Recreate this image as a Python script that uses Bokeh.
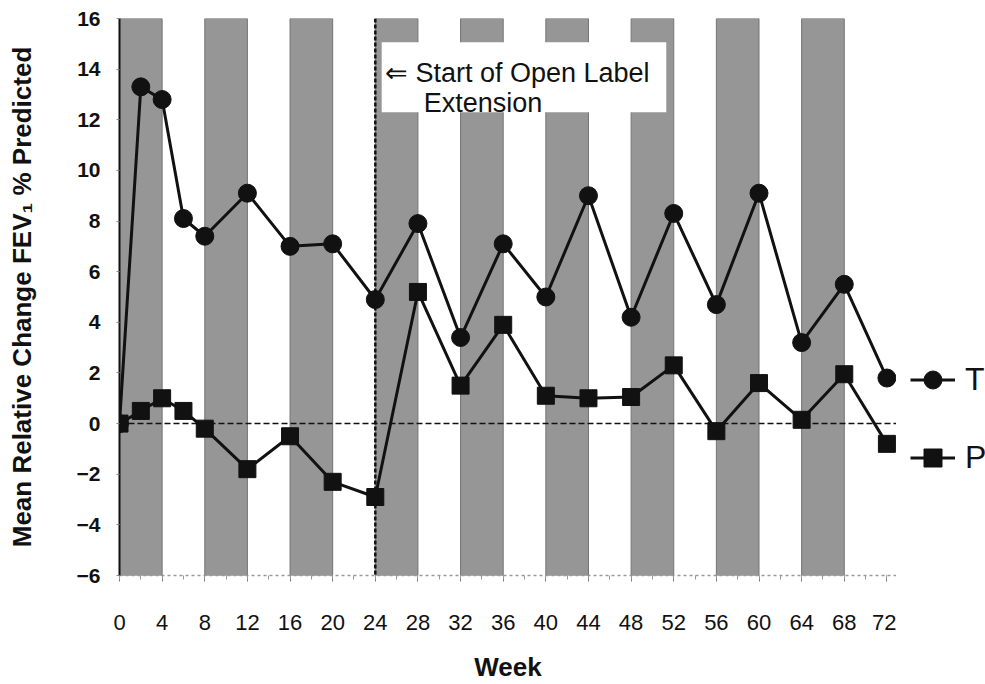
from bokeh.plotting import figure
from bokeh.layouts import row
from bokeh.models import (Span, BoxAnnotation, Label, Legend, LegendItem,
                          FixedTicker, Range1d, ColumnDataSource)
from bokeh.embed import file_html
from bokeh.resources import INLINE

# ---- data ----
weeks = [0, 2, 4, 6, 8, 12, 16, 20, 24, 28, 32, 36, 40, 44, 48, 52, 56, 60, 64, 68, 72]
t_values = [0.0, 13.3, 12.8, 8.1, 7.4, 9.1, 7.0, 7.1, 4.9, 7.9, 3.4, 7.1, 5.0,
            9.0, 4.2, 8.3, 4.7, 9.1, 3.2, 5.5, 1.8]
p_values = [0.0, 0.5, 1.0, 0.5, -0.2, -1.8, -0.5, -2.3, -2.9, 5.2, 1.5, 3.9, 1.1,
            1.0, 1.05, 2.3, -0.3, 1.6, 0.15, 1.95, -0.8]
band_starts = [0, 8, 16, 24, 32, 40, 48, 56, 64]
band_length = 4
x_ticks = list(range(0, 73, 4))
x_minor = list(range(0, 73, 2))
y_ticks = list(range(-6, 17, 2))
open_label_week = 24
series_names = ["T", "P"]
note_lines = ["\u21d0 Start of Open Label", "Extension"]

FONT = "Liberation Sans"
INK = "#111111"

TOP, BOTTOM = 18, 106
MAIN_W = 896

p = figure(width=MAIN_W, height=684, x_range=Range1d(0, 72.9), y_range=Range1d(-6, 16),
           output_backend="svg", toolbar_location=None,
           min_border_left=119, min_border_right=0, min_border_top=TOP,
           min_border_bottom=BOTTOM)
p.outline_line_color = None
p.xgrid.visible = False
p.ygrid.visible = False

# shaded bands
band_src = ColumnDataSource(dict(
    left=band_starts,
    right=[b + band_length for b in band_starts],
))
p.quad(left="left", right="right", bottom=-6, top=16, source=band_src,
       fill_color="#969696", line_color="#747474", line_width=1)

# reference lines
p.add_layout(Span(location=0, dimension="width", line_dash="6 3",
                  line_width=1.5, line_color=INK))
p.add_layout(Span(location=open_label_week, dimension="height", line_dash="4 2",
                  line_width=2.5, line_color=INK))

# annotation box + text
p.add_layout(BoxAnnotation(left=24.6, right=51.3, bottom=12.3, top=15.06,
                           fill_color="white", fill_alpha=1.0, line_color=None))
p.add_layout(Label(x=24.9, y=13.84, text=note_lines[0], text_font=FONT,
                   text_font_size="27px", text_color=INK, text_baseline="alphabetic"))
p.add_layout(Label(x=28.55, y=12.66, text=note_lines[1], text_font=FONT,
                   text_font_size="27px", text_color=INK, text_baseline="alphabetic"))

# series
src = ColumnDataSource(dict(w=weeks, t=t_values, p=p_values))


def draw_series(fig):
    tl = fig.line("w", "t", source=src, line_width=3, line_color=INK)
    tm = fig.scatter("w", "t", source=src, marker="circle", size=18,
                     fill_color=INK, line_color=INK)
    pl = fig.line("w", "p", source=src, line_width=3, line_color=INK)
    pm = fig.scatter("w", "p", source=src, marker="square", size=17,
                     fill_color=INK, line_color=INK)
    return tl, tm, pl, pm


draw_series(p)

# y axis
ya = p.yaxis[0]
ya.ticker = FixedTicker(ticks=y_ticks)
ya.axis_line_width = 2
ya.axis_line_color = INK
ya.major_tick_line_color = "#888888"
ya.major_tick_out = 3
ya.major_tick_in = 0
ya.minor_tick_out = 0
ya.minor_tick_in = 0
ya.major_label_standoff = 16
ya.major_label_text_font = FONT
ya.major_label_text_font_size = "21px"
ya.major_label_text_font_style = "bold"
ya.major_label_text_color = INK
ya.axis_label = "Mean Relative Change FEV\u2081 % Predicted"
ya.axis_label_text_font = FONT
ya.axis_label_text_font_size = "26px"
ya.axis_label_text_font_style = "bold"
ya.axis_label_text_color = INK
ya.axis_label_standoff = 37

# x axis
xa = p.xaxis[0]
xa.ticker = FixedTicker(ticks=x_ticks, minor_ticks=x_minor)
xa.axis_line_color = "#9a9a9a"
xa.axis_line_dash = "3 3"
xa.axis_line_width = 1.5
xa.major_tick_line_color = "#777777"
xa.major_tick_out = 6
xa.major_tick_in = 0
xa.minor_tick_line_color = "#999999"
xa.minor_tick_out = 4
xa.minor_tick_in = 0
xa.major_label_standoff = 33
xa.major_label_text_font = FONT
xa.major_label_text_font_size = "22px"
xa.major_label_text_color = INK
xa.axis_label = "Week"
xa.axis_label_text_font = FONT
xa.axis_label_text_font_size = "26px"
xa.axis_label_text_font_style = "bold"
xa.axis_label_text_color = INK
xa.axis_label_standoff = 19

# legend panel at the right (series drawn out of view, only legend glyphs show)
q = figure(width=985 - MAIN_W, height=684, x_range=Range1d(1000, 1001), y_range=p.y_range,
           output_backend="svg", toolbar_location=None,
           x_axis_type=None, y_axis_type=None,
           min_border_left=0, min_border_right=0, min_border_top=TOP,
           min_border_bottom=BOTTOM)
q.outline_line_color = None
q.xgrid.visible = False
q.ygrid.visible = False
qt_l, qt_m, qp_l, qp_m = draw_series(q)

legend = Legend(items=[LegendItem(label=series_names[0], renderers=[qt_l, qt_m]),
                       LegendItem(label=series_names[1], renderers=[qp_l, qp_m])],
                location=(14, 95), padding=0, margin=0, spacing=33,
                glyph_width=45, glyph_height=45, label_standoff=10,
                label_text_font=FONT, label_text_font_size="32px",
                label_text_color=INK, border_line_color=None,
                background_fill_alpha=0)
q.add_layout(legend)

layout = row(p, q, spacing=0)
open("out.html", "w").write(file_html(layout, INLINE))
